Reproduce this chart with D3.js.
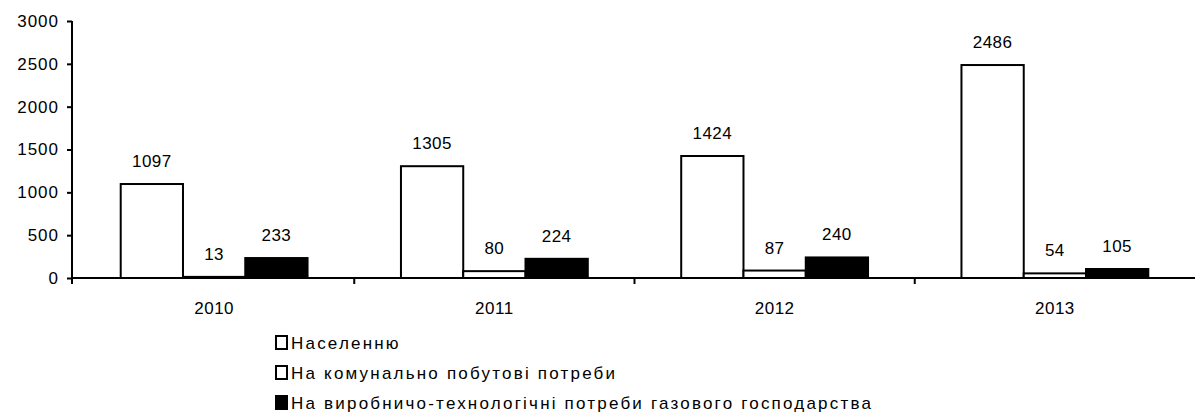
<!DOCTYPE html>
<html>
<head>
<meta charset="utf-8">
<script src="https://cdn.jsdelivr.net/npm/d3@7"></script>
<style>
  body { margin: 0; background: #fff; }
  text { font-family: "Liberation Sans", Arial, sans-serif; fill: #000; }
</style>
</head>
<body>
<div id="canvas"></div>
<script>
var years = ['2010', '2011', '2012', '2013'];
var seriesNames = ['Населенню', 'На комунально побутові потреби', 'На виробничо-технологічні потреби газового господарства'];
var naselennyu = [1097, 1305, 1424, 2486];
var komunalni = [13, 80, 87, 54];
var vyrobnychi = [233, 224, 240, 105];
var yTicks = [0, 500, 1000, 1500, 2000, 2500, 3000];
var seriesFill = ['#fff', '#fff', '#000'];

var svgWidth = 1196, svgHeight = 419;
var axisX = 72, plotLeft = 74, plotRight = 1195, plotTop = 21, plotBottom = 278;

var allSeries = [naselennyu, komunalni, vyrobnychi];

var svg = d3.select('#canvas').append('svg')
    .attr('width', svgWidth)
    .attr('height', svgHeight);

var y = d3.scaleLinear().domain([0, 3000]).range([plotBottom, plotTop]);
var x0 = d3.scaleBand().domain(years).range([plotLeft, plotRight]).padding(0);
var x1 = d3.scaleBand().domain([0, 1, 2]).range([0, x0.bandwidth()])
    .paddingInner(0).paddingOuter(0.75);

// y axis
var yAxis = svg.append('g').attr('transform', 'translate(' + axisX + ',0)')
    .call(d3.axisLeft(y).tickValues(yTicks).tickSize(5).tickPadding(8).tickFormat(d3.format('d')));
yAxis.select('.domain').attr('d', 'M0,' + plotTop + 'V' + (plotBottom + 1)).attr('stroke-width', 2).attr('stroke', '#000');
yAxis.selectAll('.tick line').attr('stroke-width', 2);
yAxis.selectAll('.tick text').attr('font-size', '17px').attr('letter-spacing', '1px')
    .attr('font-family', '"Liberation Sans", Arial, sans-serif');

// bars
years.forEach(function (yr, i) {
    var g = svg.append('g').attr('transform', 'translate(' + x0(yr) + ',0)');
    allSeries.forEach(function (vals, s) {
        var v = vals[i];
        g.append('rect')
            .attr('x', x1(s))
            .attr('y', y(v))
            .attr('width', x1.bandwidth())
            .attr('height', plotBottom - y(v))
            .attr('fill', seriesFill[s])
            .attr('stroke', '#000')
            .attr('stroke-width', 2);
        g.append('text')
            .attr('x', x1(s) + x1.bandwidth() / 2)
            .attr('y', y(v) - 17)
            .attr('text-anchor', 'middle')
            .attr('font-size', '17px')
            .attr('letter-spacing', '0.5px')
            .text(v);
    });
});

// x axis
var xAxis = svg.append('g').attr('transform', 'translate(0,' + plotBottom + ')')
    .call(d3.axisBottom(x0).tickSize(0).tickPadding(24));
xAxis.select('.domain').attr('d', 'M' + axisX + ',0H' + plotRight).attr('stroke-width', 2).attr('stroke', '#000');
xAxis.selectAll('.tick text').attr('font-size', '17px').attr('letter-spacing', '0.5px')
    .attr('font-family', '"Liberation Sans", Arial, sans-serif');
var bounds = [axisX].concat(years.slice(1).map(function (d) { return x0(d); }));
xAxis.selectAll('.sep').data(bounds).enter().append('line')
    .attr('x1', function (d) { return d; }).attr('x2', function (d) { return d; })
    .attr('y1', 0).attr('y2', 6)
    .attr('stroke', '#000').attr('stroke-width', 2);

// legend
var legend = svg.append('g').attr('transform', 'translate(276,336)');
seriesNames.forEach(function (name, s) {
    legend.append('rect')
        .attr('x', 0).attr('y', s * 30)
        .attr('width', 11).attr('height', 13)
        .attr('fill', seriesFill[s])
        .attr('stroke', '#000').attr('stroke-width', 2);
    legend.append('text')
        .attr('x', 15).attr('y', s * 30 + 13)
        .attr('font-size', '17px')
        .attr('letter-spacing', '2.2px')
        .text(name);
});
</script>
</body>
</html>
